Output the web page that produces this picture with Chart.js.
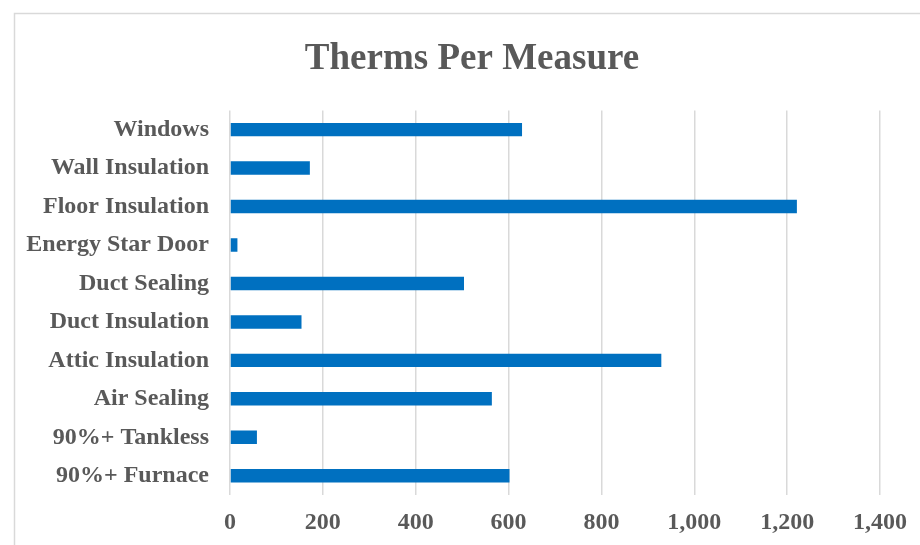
<!DOCTYPE html>
<html>
<head>
<meta charset="utf-8">
<script src="https://cdn.jsdelivr.net/npm/chart.js@4.4.1/dist/chart.umd.min.js"></script>
<style>
  html, body { margin: 0; padding: 0; background: #fff; }
  #wrap { position: relative; width: 920px; height: 545px; }
</style>
</head>
<body>
<div id="wrap"><canvas id="chart" width="920" height="545"></canvas></div>
<script>
// Data
const measures = ['Windows', 'Wall Insulation', 'Floor Insulation', 'Energy Star Door', 'Duct Sealing',
                  'Duct Insulation', 'Attic Insulation', 'Air Sealing', '90%+ Tankless', '90%+ Furnace'];
const therms = [629, 172, 1221, 16, 504, 154, 929, 564, 58, 602];
const xTicks = [0, 200, 400, 600, 800, 1000, 1200, 1400];

const textColor = '#595959';
const fontFamily = "'Liberation Serif', 'Times New Roman', serif";

// Light frame around the chart (Excel chart border, clipped at right/bottom)
const framePlugin = {
    id: 'frame',
    beforeDraw(chart) {
        const ctx = chart.ctx;
        ctx.save();
        ctx.strokeStyle = '#d9d9d9';
        ctx.lineWidth = 1.5;
        ctx.beginPath();
        ctx.moveTo(14.5, chart.height);
        ctx.lineTo(14.5, 13.5);
        ctx.lineTo(chart.width, 13.5);
        ctx.stroke();
        ctx.restore();
    }
};

new Chart(document.getElementById('chart').getContext('2d'), {
    type: 'bar',
    data: {
        labels: measures,
        datasets: [{
            data: therms,
            backgroundColor: '#0070C0',
            borderWidth: 0,
            barPercentage: 0.35,
            categoryPercentage: 1
        }]
    },
    plugins: [framePlugin],
    options: {
        indexAxis: 'y',
        responsive: false,
        animation: false,
        layout: {
            padding: { left: 24, right: 0, top: 0, bottom: 0 }
        },
        plugins: {
            legend: { display: false },
            tooltip: { enabled: false },
            title: {
                display: true,
                text: 'Therms Per Measure',
                color: textColor,
                font: { family: fontFamily, size: 37, weight: 'bold' },
                padding: { top: 37, bottom: 29 }
            }
        },
        scales: {
            x: {
                min: 0,
                max: 1400,
                afterBuildTicks: (axis) => {
                    axis.ticks = xTicks.map(v => ({ value: v }));
                },
                afterFit: (axis) => { axis.height = 50; },
                grid: {
                    color: '#d9d9d9',
                    lineWidth: 1.5,
                    drawTicks: false
                },
                border: { display: false },
                ticks: {
                    padding: 13,
                    color: textColor,
                    font: { family: fontFamily, size: 24, weight: 'bold' },
                    callback: (value) => value.toLocaleString('en-US')
                }
            },
            y: {
                afterFit: (axis) => { axis.width = 206; },
                grid: { display: false, drawTicks: false },
                border: { display: false },
                ticks: {
                    padding: 21,
                    color: textColor,
                    font: { family: fontFamily, size: 24, weight: 'bold' }
                }
            },
            // empty spacer on the right so the last gridline sits where the reference has it
            yRight: {
                type: 'category',
                axis: 'y',
                position: 'right',
                afterFit: (axis) => { axis.width = 40; },
                grid: { display: false, drawTicks: false },
                border: { display: false },
                ticks: { display: false }
            }
        }
    }
});
</script>
</body>
</html>
